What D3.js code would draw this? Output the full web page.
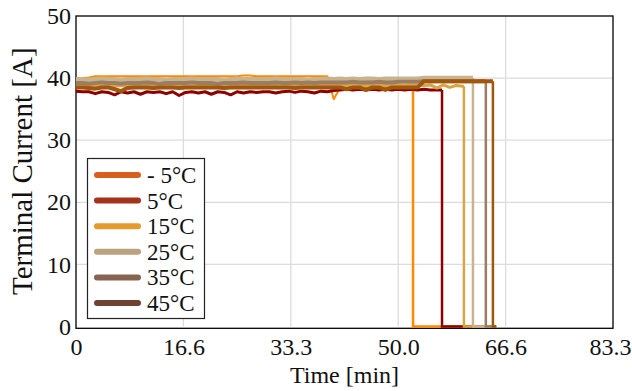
<!DOCTYPE html>
<html><head><meta charset="utf-8">
<script src="https://cdn.jsdelivr.net/npm/d3@7"></script>
<style>body{margin:0;background:#fff}</style>
</head><body><svg id="c" width="632" height="391"></svg>
<script>
// ---- data ----
const categories = ["- 5°C", "5°C", "15°C", "25°C", "35°C", "45°C"];
const xTickValues = [0, 16.667, 33.333, 50, 66.667, 83.333];
const xTickLabels = ["0", "16.6", "33.3", "50.0", "66.6", "83.3"];
const yTickValues = [0, 10, 20, 30, 40, 50];
const timeMin = [0,1,2,3,4,5,6,7,8,9,10,11,12,13,14,15,16,17,18,19,20,21,22,23,24,25,26,27,28,29,30,31,32,33,34,35,36,37,38,39,40,41,42,43,44,45,46,47,48,49,50,51,52,53,54,55,56,57,58,59,60,61,62,63,64,65];
const dropTime = [52.3, 56.8, 60.2, 61.6, 63.6, 64.7];
const endTime = 65.2;
const currentM5 = [39.9,40.0,40.1,
  40.3,40.3,40.3,40.3,40.3,40.3,40.3,40.3,40.3,40.3,
  40.3,40.3,40.3,40.3,40.3,40.3,40.3,40.3,40.3,40.3,
  40.3,40.3,40.3,40.4,40.4,40.3,40.3,40.3,40.3,40.3,
  40.3,40.3,40.3,40.3,40.3,40.3,40.3,
  36.6,
  38.5,38.4,38.6,38.5,38.4,38.5,38.6,38.5,38.4,38.5,38.6,38.5];
const current5 = [37.9,37.8,37.8,37.5,37.8,37.7,37.3,37.8,37.6,37.8,
  37.4,37.8,37.7,37.8,37.5,37.8,37.2,37.7,37.8,37.6,
  37.8,37.4,37.8,37.7,37.3,37.8,37.6,37.8,37.7,37.8,
  37.8,37.6,37.8,37.9,37.7,37.9,37.8,37.6,37.9,37.8,
  38.0,38.1,38.2,38.1,38.2,38.1,38.2,38.1,38.2,38.1,
  38.2,38.1,38.2,38.1,38.2,38.1,38.1];
const current15 = [38.7,38.8,38.6,38.8,38.7,38.9,38.7,38.8,38.6,38.8,
  38.7,38.8,38.9,38.7,38.8,38.7,38.9,38.8,38.7,38.8,
  38.8,38.7,38.9,38.8,38.7,38.8,38.9,38.7,38.8,38.8,
  38.9,38.8,38.7,38.9,38.8,38.8,38.9,38.8,38.9,38.8,
  38.9,38.9,38.8,38.9,38.9,38.8,38.9,38.9,38.8,38.9,
  38.9,38.8,38.9,38.9,38.8,38.9,38.4,38.9,38.5,38.8,38.7];
const current25 = [39.8,39.8,39.7,39.8,39.9,39.8,39.8,39.7,39.8,39.8,
  39.8,39.9,39.8,39.8,39.7,39.8,39.8,39.8,39.9,39.8,
  39.8,39.8,39.8,39.7,39.8,39.9,39.8,39.8,39.8,39.8,
  39.8,39.9,39.8,39.8,39.8,39.8,39.7,39.8,39.8,39.9,
  39.8,39.9,39.8,39.9,39.8,39.9,39.9,39.8,39.9,39.9,
  39.9,39.9,39.9,39.9,40.0,40.0,40.0,40.0,40.0,40.0,40.0,40.0];
const current35 = [39.2,39.2,39.1,39.2,39.3,39.2,39.2,39.1,39.2,39.2,
  39.2,39.3,39.2,39.1,39.2,39.2,39.2,39.2,39.3,39.2,
  39.2,39.2,39.1,39.2,39.2,39.2,39.3,39.2,39.2,39.2,
  39.2,39.3,39.2,39.2,39.3,39.2,39.3,39.2,39.3,39.3,
  39.3,39.3,39.3,39.4,39.3,39.3,39.3,39.4,39.3,39.3,
  39.4,39.4,39.4,39.4,39.5,39.5,39.5,39.5,39.5,39.5,39.5,39.5,39.5,39.5];
const current45 = [38.5,38.5,38.4,38.3,38.5,38.5,38.2,37.9,38.4,38.5,
  38.5,38.5,38.4,38.5,38.5,38.5,38.4,38.5,38.5,38.5,
  38.5,38.5,38.5,38.4,38.5,38.5,38.5,38.5,38.5,38.5,
  38.5,38.5,38.5,38.5,38.4,38.5,38.5,38.5,38.5,38.5,
  38.5,38.5,38.2,38.5,38.5,38.1,38.5,38.5,38.1,38.5,
  38.5,38.5,38.5,38.5,
  39.5,39.5,39.5,39.5,39.5,39.5,39.5,39.5,39.5,39.5,39.5];
const seriesValues = [currentM5, current5, current15, current25, current35, current45];

// ---- styles ----
const plotColors = ["#ff8a00", "#8c0000", "#d9a441", "#c9b38f", "#9a7d62", "#a0560c"];
const bandWidths = [2, 3, 3, 4.5, 4, 4];
const dropWidth = 2.5;
const legendColors = ["#d95f20", "#a5321a", "#e49b2c", "#bca27f", "#876452", "#6e4232"];

const svg = d3.select("#c");
const L = 76, R = 613, T = 16, B = 326.5;
const x = d3.scaleLinear().domain([0, 83.333]).range([L, R]);
const y = d3.scaleLinear().domain([0, 50]).range([B, T]);
const font = '"Liberation Serif","Times New Roman",serif';

// grid
svg.append("g").selectAll("line").data(xTickValues.slice(1, -1)).join("line")
  .attr("x1", d => x(d)).attr("x2", d => x(d)).attr("y1", T).attr("y2", B)
  .attr("stroke", "#dcdcdc").attr("stroke-width", 1.3);
svg.append("g").selectAll("line").data(yTickValues.slice(1, -1)).join("line")
  .attr("y1", d => y(d)).attr("y2", d => y(d)).attr("x1", L).attr("x2", R)
  .attr("stroke", "#dcdcdc").attr("stroke-width", 1.3);

// frame
svg.append("rect").attr("x", L).attr("y", T).attr("width", R - L).attr("height", B + 1.8 - T)
  .attr("fill", "none").attr("stroke", "#000").attr("stroke-width", 1.3);

// lines
const line = d3.line().x(d => x(d[0])).y(d => y(d[1]));
seriesValues.forEach((vals, i) => {
  const lvl = vals.map((v, j) => [timeMin[j], v]);
  lvl.push([dropTime[i], vals[vals.length - 1]]);
  const drop = [[dropTime[i], vals[vals.length - 1]], [dropTime[i], 0], [endTime, 0]];
  svg.append("path").datum(drop).attr("d", line)
    .attr("fill", "none").attr("stroke", plotColors[i])
    .attr("stroke-width", dropWidth).attr("stroke-linejoin", "miter");
  svg.append("path").datum(lvl).attr("d", line)
    .attr("fill", "none").attr("stroke", plotColors[i])
    .attr("stroke-width", bandWidths[i]).attr("stroke-linejoin", "round");
});

// axes
const xAxis = d3.axisBottom(x).tickValues(xTickValues).tickFormat((d, i) => xTickLabels[i]).tickSize(0).tickPadding(11);
const gx = svg.append("g").attr("transform", `translate(0,${B})`).call(xAxis);
const yAxis = d3.axisLeft(y).tickValues(yTickValues).tickSize(0).tickPadding(5);
const gy = svg.append("g").attr("transform", `translate(${L},0)`).call(yAxis);
[gx, gy].forEach(g => {
  g.attr("font-family", null).attr("font-size", null);
  g.select(".domain").remove();
  g.selectAll("text").style("font-family", font).style("font-size", "24px").attr("fill", "#111");
});
gx.selectAll(".tick text").filter((d, i) => i === xTickValues.length - 1).attr("dx", "-3");

// axis labels
svg.append("text").attr("x", (L + R) / 2).attr("y", 383).attr("text-anchor", "middle")
  .style("font-family", font).style("font-size", "24px").attr("fill", "#111").text("Time [min]");
svg.append("text").attr("transform", `translate(32,${(T + B) / 2}) rotate(-90)`)
  .attr("text-anchor", "middle").style("font-family", font).style("font-size", "29px").attr("fill", "#111")
  .text("Terminal Current [A]");

// legend
const lg = svg.append("g");
lg.append("rect").attr("x", 87.5).attr("y", 158.5).attr("width", 117).attr("height", 160)
  .attr("fill", "#fff").attr("stroke", "#222").attr("stroke-width", 1.2);
categories.forEach((c, i) => {
  const cy = 175 + i * 25.6;
  lg.append("line").attr("x1", 97).attr("x2", 138).attr("y1", cy).attr("y2", cy)
    .attr("stroke", legendColors[i]).attr("stroke-width", 6).attr("stroke-linecap", "round");
  lg.append("text").attr("x", 147).attr("y", cy + 8).style("font-family", font)
    .style("font-size", "23px").attr("fill", "#111").text(c);
});
</script></body></html>
